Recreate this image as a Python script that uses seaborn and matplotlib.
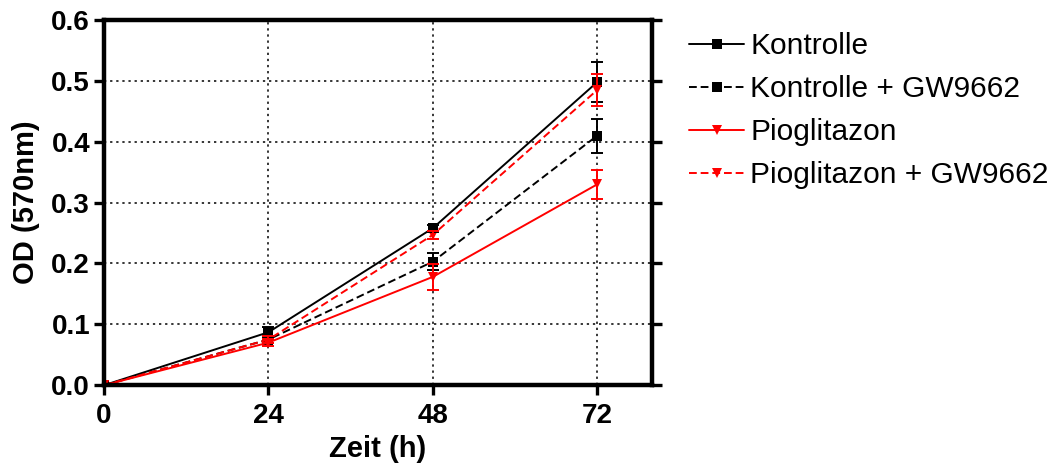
import numpy as np
import pandas as pd
import matplotlib
matplotlib.use("Agg")
import matplotlib.pyplot as plt
import seaborn as sns

time_h = [0, 24, 48, 72]
series_names = ["Kontrolle", "Kontrolle + GW9662", "Pioglitazon", "Pioglitazon + GW9662"]
kontrolle = [0.0, 0.087, 0.258, 0.498]
kontrolle_err = [0.0, 0.008, 0.006, 0.033]
kontrolle_gw = [0.0, 0.075, 0.203, 0.410]
kontrolle_gw_err = [0.0, 0.006, 0.014, 0.028]
pio = [0.0, 0.070, 0.178, 0.330]
pio_err = [0.0, 0.006, 0.021, 0.024]
pio_gw = [0.0, 0.075, 0.247, 0.485]
pio_gw_err = [0.0, 0.006, 0.006, 0.027]
x_ticks = [0, 24, 48, 72]
y_ticks = [0.0, 0.1, 0.2, 0.3, 0.4, 0.5, 0.6]

values = [kontrolle, kontrolle_gw, pio, pio_gw]
errors = [kontrolle_err, kontrolle_gw_err, pio_err, pio_gw_err]
rows = []
for name, vals, errs in zip(series_names, values, errors):
    for t, v, e in zip(time_h, vals, errs):
        rows.append({"Zeit": t, "OD": v, "err": e, "Gruppe": name})
df = pd.DataFrame(rows)

sns.set_theme(style="white")
plt.rcParams['font.family'] = ['Liberation Sans', 'DejaVu Sans']
plt.rcParams['text.color'] = 'black'
plt.rcParams['axes.labelcolor'] = 'black'
plt.rcParams['xtick.color'] = 'black'
plt.rcParams['ytick.color'] = 'black'

colors = {"Kontrolle": "black", "Kontrolle + GW9662": "black",
          "Pioglitazon": "red", "Pioglitazon + GW9662": "red"}
dashes = {"Kontrolle": "", "Kontrolle + GW9662": (4, 2),
          "Pioglitazon": "", "Pioglitazon + GW9662": (4, 2)}
markers = {"Kontrolle": "s", "Kontrolle + GW9662": "s",
           "Pioglitazon": "v", "Pioglitazon + GW9662": "v"}

fig = plt.figure(figsize=(10.57, 4.75), dpi=100)
ax = fig.add_axes([0.0984, 0.189, 0.5185, 0.769])

sns.lineplot(data=df, x="Zeit", y="OD", hue="Gruppe", style="Gruppe",
             palette=colors, dashes=dashes, markers=markers,
             hue_order=series_names, style_order=series_names,
             markersize=7, markeredgewidth=0, linewidth=1.4, ax=ax,
             errorbar=None, legend=True)

for name in series_names:
    sub = df[df["Gruppe"] == name]
    sub = sub[sub["Zeit"] > 0]
    ax.errorbar(sub["Zeit"], sub["OD"], yerr=sub["err"], fmt="none",
                ecolor=colors[name], elinewidth=1.4, capsize=4, capthick=1.4, zorder=3)

ax.set_xlim(0, 80)
ax.set_ylim(0, 0.6)
ax.set_xticks(x_ticks)
ax.set_yticks(y_ticks)
ax.set_yticklabels([f"{v:.1f}" for v in y_ticks])
ax.grid(True, color="black", linestyle=(0, (1.5, 2.5)), linewidth=1.1)
ax.set_axisbelow(True)
for s in ax.spines.values():
    s.set_visible(True)
    s.set_color("black")
    s.set_linewidth(3.2)
ax.tick_params(axis="both", which="major", direction="out", length=7, width=2.4,
               labelsize=20, color="black", labelcolor="black", pad=3)
ax.tick_params(axis="y", right=True, left=True)
ax.tick_params(axis="x", bottom=True, pad=6)
for lbl in ax.get_xticklabels() + ax.get_yticklabels():
    lbl.set_fontweight("bold")
ax.set_xlabel("Zeit (h)", fontsize=21, fontweight="bold", labelpad=4)
ax.set_ylabel("OD (570nm)", fontsize=21, fontweight="bold", labelpad=8)

handles, labels = ax.get_legend_handles_labels()
ax.legend(handles, labels, loc="upper left", bbox_to_anchor=(0.6405, 0.957),
          bbox_transform=fig.transFigure, frameon=False, fontsize=21.5,
          handlelength=1.85, handletextpad=0.2, labelspacing=0.5, borderaxespad=0)

fig.savefig("out.png", dpi=100)
